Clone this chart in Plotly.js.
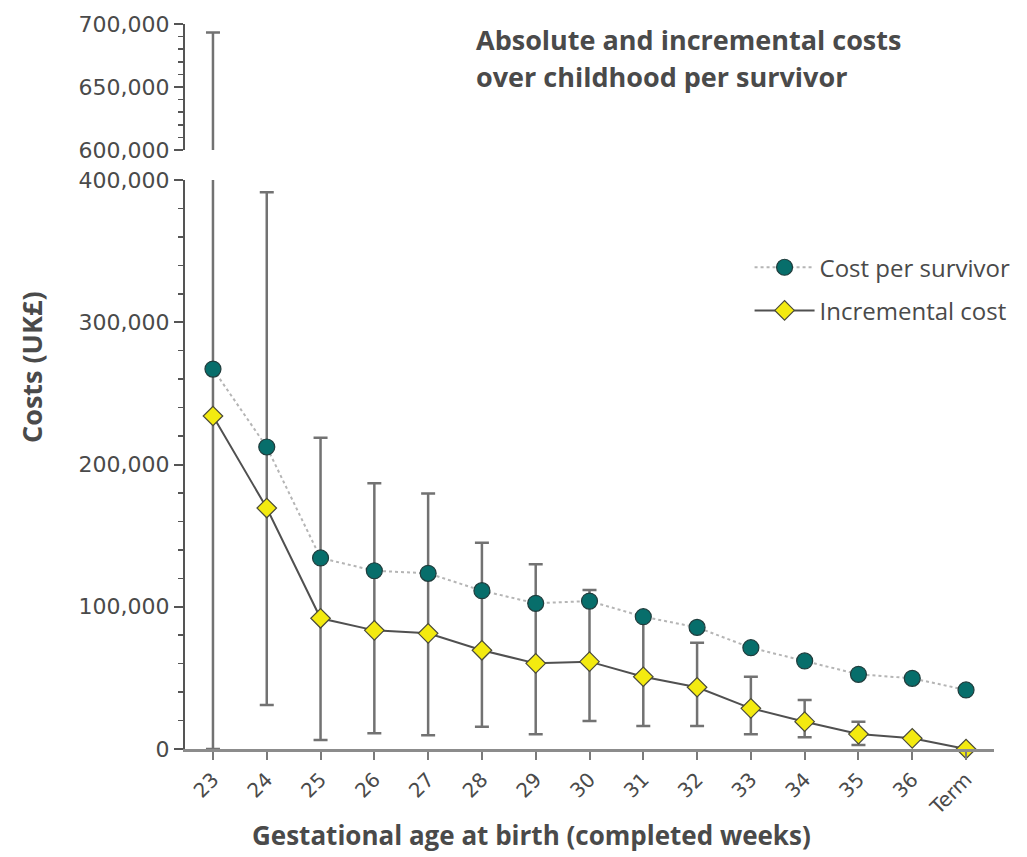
<!DOCTYPE html>
<html>
<head>
<meta charset="utf-8">
<script src="https://cdn.plot.ly/plotly-3.0.1.min.js"></script>
<style>
  html, body { margin: 0; padding: 0; background: #fff; }
  #chart { width: 1027px; height: 857px; }
</style>
</head>
<body>
<div id="chart"></div>
<script>
// Gestational age categories (completed weeks)
const weeks = ['23', '24', '25', '26', '27', '28', '29', '30', '31', '32', '33', '34', '35', '36', 'Term'];

// Cost per survivor over childhood (UK£)
const costPerSurvivor = [267100, 212300, 134300, 125300, 123500, 111300, 102400, 104000, 93000, 85500, 71200, 61900, 52500, 49700, 41500];

// Incremental cost relative to term birth (UK£)
const incrementalCost = [234100, 169400, 91900, 83400, 81300, 69400, 60200, 61400, 50800, 43400, 28600, 19200, 10500, 7500, 0];

// Interval bounds around the incremental cost (UK£)
const ciLower = [0, 30900, 6300, 11000, 9600, 15700, 10300, 19700, 16200, 16200, 10300, 8200, 2800, null, null];
const ciUpper = [693300, 391400, 218800, 186800, 179700, 145000, 129800, 111800, 93000, 74700, 50800, 34400, 19200, null, null];

const errPlus = ciUpper.map((u, i) => (u == null ? NaN : u - incrementalCost[i]));
const errMinus = ciLower.map((l, i) => (l == null ? NaN : incrementalCost[i] - l));

const axisGrey = '#555555';
const textGrey = '#4a4a4a';

function intervalTrace(yaxis) {
  return {
    x: weeks,
    y: incrementalCost,
    yaxis: yaxis,
    type: 'scatter',
    mode: 'lines',
    line: { width: 0, color: 'rgba(0,0,0,0)' },
    showlegend: false,
    hoverinfo: 'skip',
    error_y: {
      type: 'data',
      symmetric: false,
      array: errPlus,
      arrayminus: errMinus,
      color: '#727272',
      thickness: 2.5,
      width: 7
    }
  };
}

const traces = [
  // interval bars on the lower (0-400k) and upper (600k-700k) panels
  intervalTrace('y'),
  intervalTrace('y2'),
  {
    x: weeks,
    y: costPerSurvivor,
    name: 'Cost per survivor',
    type: 'scatter',
    mode: 'lines+markers',
    cliponaxis: false,
    legendgroup: 'a',
    line: { color: '#b5b5b5', width: 2, dash: 'dot' },
    marker: { symbol: 'circle', size: 16, color: '#076e6b', line: { color: '#203c3c', width: 1.2 } }
  },
  {
    x: weeks,
    y: incrementalCost,
    name: 'Incremental cost',
    type: 'scatter',
    mode: 'lines+markers',
    cliponaxis: false,
    legendgroup: 'b',
    line: { color: '#505050', width: 2 },
    marker: { symbol: 'diamond', size: 15, color: '#f3ea10', line: { color: '#4a4a3a', width: 1.2 } }
  }
];

const yTickFont = { family: 'DejaVu Sans, Verdana, sans-serif', size: 22, color: textGrey };
const titleFont = { family: 'Open Sans, sans-serif', size: 27, color: textGrey };

const layout = {
  width: 1027,
  height: 857,
  margin: { l: 185, r: 32, t: 24, b: 108 },
  paper_bgcolor: '#ffffff',
  plot_bgcolor: '#ffffff',
  showlegend: true,
  legend: {
    x: 0.697, y: 0.695, xanchor: 'left', yanchor: 'top',
    font: { family: 'Open Sans, sans-serif', size: 24, color: textGrey },
    traceorder: 'grouped',
    tracegroupgap: 9,
    itemwidth: 60,
    bgcolor: 'rgba(0,0,0,0)'
  },
  xaxis: {
    type: 'category',
    range: [-0.52, 14.52],
    showline: true,
    linecolor: '#8c8c8c',
    linewidth: 3,
    showgrid: false,
    zeroline: false,
    ticks: 'outside',
    ticklen: 8,
    tickwidth: 2,
    tickcolor: '#7a7a7a',
    tickangle: -45,
    tickfont: { family: 'DejaVu Sans, Verdana, sans-serif', size: 20, color: textGrey },
    anchor: 'y'
  },
  yaxis: {
    domain: [0, 0.7848],
    range: [0, 400000],
    tickformat: ',d',
    tick0: 0,
    dtick: 100000,
    showline: true,
    linecolor: axisGrey,
    linewidth: 2,
    showgrid: false,
    zeroline: false,
    ticks: 'outside',
    ticklen: 9,
    tickwidth: 2,
    tickcolor: axisGrey,
    tickfont: yTickFont,
    minor: { dtick: 20000, ticks: 'outside', ticklen: 5, tickwidth: 1.5, tickcolor: axisGrey, showgrid: false },
    anchor: 'x'
  },
  yaxis2: {
    domain: [0.8262, 1],
    range: [600000, 700000],
    tickformat: ',d',
    tick0: 600000,
    dtick: 50000,
    showline: true,
    linecolor: axisGrey,
    linewidth: 2,
    showgrid: false,
    zeroline: false,
    ticks: 'outside',
    ticklen: 9,
    tickwidth: 2,
    tickcolor: axisGrey,
    tickfont: yTickFont,
    minor: { dtick: 10000, ticks: 'outside', ticklen: 5, tickwidth: 1.5, tickcolor: axisGrey, showgrid: false },
    anchor: 'x'
  },
  annotations: [
    {
      text: '<b>Absolute and incremental costs</b>',
      xref: 'paper', yref: 'paper', x: 0.357, y: 0.9785,
      xanchor: 'left', yanchor: 'middle', showarrow: false,
      font: titleFont
    },
    {
      text: '<b>over childhood per survivor</b>',
      xref: 'paper', yref: 'paper', x: 0.357, y: 0.9275,
      xanchor: 'left', yanchor: 'middle', showarrow: false,
      font: titleFont
    },
    {
      text: '<b>Costs (UK£)</b>',
      xref: 'paper', yref: 'paper', x: -0.189, y: 0.527,
      xanchor: 'center', yanchor: 'middle', textangle: -90, showarrow: false,
      font: titleFont
    },
    {
      text: '<b>Gestational age at birth (completed weeks)</b>',
      xref: 'paper', yref: 'paper', x: 0.428, y: -0.119,
      xanchor: 'center', yanchor: 'middle', showarrow: false,
      font: { family: 'Open Sans, sans-serif', size: 26, color: textGrey }
    }
  ]
};

Plotly.newPlot('chart', traces, layout, { displayModeBar: false, staticPlot: true });
</script>
</body>
</html>
